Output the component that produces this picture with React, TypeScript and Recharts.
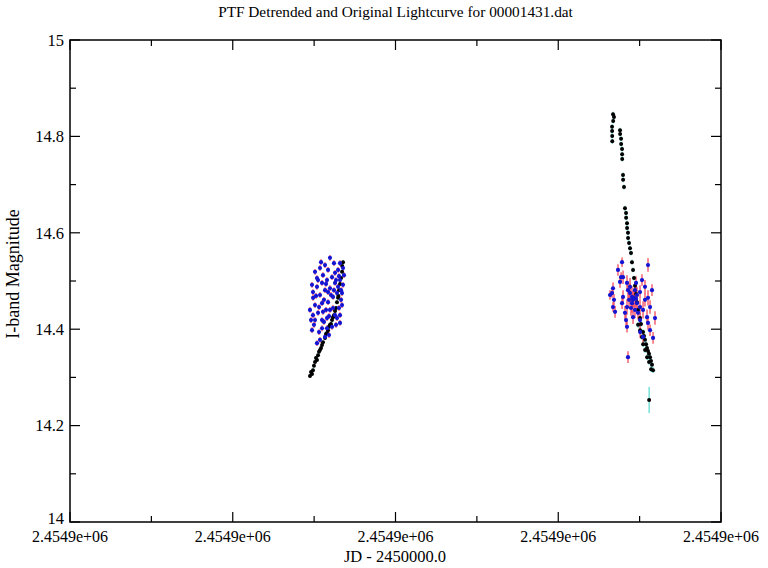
import { ScatterChart, Scatter, XAxis, YAxis, ErrorBar, ReferenceArea, Label } from 'recharts';

// Lightcurve of PTF source 00001431: black = original, blue = detrended.

const FONT = '"Liberation Serif", "Times New Roman", serif';

const X_MIN = 2454860;
const X_MAX = 2454940;
const X_TICKS = [2454860, 2454870, 2454880, 2454890, 2454900, 2454910, 2454920, 2454930, 2454940];
const X_MAJOR = [2454860, 2454880, 2454900, 2454920, 2454940];

const Y_TICKS = [14, 14.1, 14.2, 14.3, 14.4, 14.5, 14.6, 14.7, 14.8, 14.9, 15];
const Y_MAJOR = [14, 14.2, 14.4, 14.6, 14.8, 15];

const PLOT_W = 651;
const PLOT_H = 482;

// [JD, mag, err]
const origSeason1: number[][] = [
    [2454889.49, 14.303, 0.004], [2454889.62, 14.311, 0.004], [2454889.74, 14.307, 0.004],
    [2454889.86, 14.315, 0.004], [2454889.98, 14.324, 0.004], [2454890.11, 14.332, 0.004],
    [2454890.23, 14.340, 0.004], [2454890.35, 14.336, 0.004], [2454890.48, 14.346, 0.004],
    [2454890.60, 14.353, 0.004], [2454890.72, 14.357, 0.004], [2454890.85, 14.361, 0.004],
    [2454890.97, 14.367, 0.004], [2454891.09, 14.373, 0.004], [2454891.34, 14.382, 0.004],
    [2454891.46, 14.390, 0.004], [2454891.58, 14.392, 0.004], [2454891.71, 14.398, 0.004],
    [2454891.83, 14.405, 0.004], [2454891.95, 14.409, 0.004], [2454892.07, 14.411, 0.004],
    [2454892.20, 14.419, 0.004], [2454892.32, 14.425, 0.004], [2454892.44, 14.429, 0.004],
    [2454892.57, 14.438, 0.004], [2454892.69, 14.444, 0.004], [2454892.81, 14.456, 0.004],
    [2454892.94, 14.465, 0.004], [2454892.99, 14.469, 0.004], [2454893.06, 14.481, 0.004],
    [2454893.18, 14.494, 0.004], [2454893.31, 14.506, 0.004], [2454893.43, 14.519, 0.004],
    [2454893.45, 14.531, 0.004], [2454893.55, 14.539, 0.004],
];

const origSeason2: number[][] = [
    [2454926.73, 14.846, 0.005], [2454926.85, 14.840, 0.005], [2454926.75, 14.832, 0.005],
    [2454926.61, 14.820, 0.005], [2454926.62, 14.811, 0.005], [2454926.63, 14.801, 0.005],
    [2454926.64, 14.790, 0.005], [2454927.59, 14.813, 0.005], [2454927.60, 14.805, 0.005],
    [2454927.72, 14.795, 0.005], [2454927.73, 14.784, 0.005], [2454927.84, 14.774, 0.005],
    [2454927.85, 14.763, 0.005], [2454927.86, 14.753, 0.005], [2454927.96, 14.720, 0.005],
    [2454927.97, 14.710, 0.005], [2454928.08, 14.695, 0.005], [2454928.20, 14.651, 0.005],
    [2454928.33, 14.641, 0.005], [2454928.34, 14.631, 0.005], [2454928.45, 14.620, 0.005],
    [2454928.46, 14.610, 0.005], [2454928.57, 14.600, 0.005], [2454928.58, 14.589, 0.005],
    [2454928.70, 14.579, 0.005], [2454928.82, 14.568, 0.005], [2454928.94, 14.558, 0.005],
    [2454929.06, 14.539, 0.005], [2454929.19, 14.523, 0.005], [2454929.31, 14.506, 0.005],
    [2454929.43, 14.490, 0.005], [2454929.56, 14.473, 0.005], [2454929.68, 14.456, 0.005],
    [2454929.80, 14.440, 0.005], [2454930.05, 14.423, 0.005], [2454929.81, 14.409, 0.006],
    [2454930.17, 14.411, 0.006], [2454930.06, 14.398, 0.006], [2454930.42, 14.394, 0.006],
    [2454930.29, 14.384, 0.006], [2454930.54, 14.386, 0.006], [2454930.66, 14.378, 0.006],
    [2454930.43, 14.369, 0.006], [2454930.79, 14.369, 0.006], [2454930.91, 14.361, 0.006],
    [2454930.67, 14.357, 0.006], [2454931.03, 14.355, 0.006], [2454931.15, 14.349, 0.006],
    [2454930.92, 14.342, 0.006], [2454931.28, 14.342, 0.006], [2454931.40, 14.334, 0.006],
    [2454931.16, 14.332, 0.006], [2454931.52, 14.326, 0.006], [2454931.41, 14.317, 0.006],
    [2454931.65, 14.315, 0.006], [2454931.17, 14.253, 0.027],
];

const detSeason1: number[][] = [
    [2454891.95, 14.548, 0.006], [2454890.11, 14.519, 0.006], [2454890.72, 14.527, 0.006],
    [2454891.09, 14.512, 0.006], [2454891.58, 14.502, 0.006], [2454892.20, 14.508, 0.006],
    [2454892.57, 14.517, 0.006], [2454892.94, 14.523, 0.006], [2454893.18, 14.537, 0.006],
    [2454890.97, 14.496, 0.006], [2454890.35, 14.488, 0.006], [2454889.86, 14.477, 0.006],
    [2454889.87, 14.465, 0.006], [2454890.72, 14.471, 0.006], [2454891.34, 14.481, 0.006],
    [2454891.95, 14.485, 0.006], [2454892.57, 14.496, 0.006], [2454892.94, 14.488, 0.006],
    [2454890.11, 14.450, 0.006], [2454890.97, 14.454, 0.006], [2454891.71, 14.456, 0.006],
    [2454892.32, 14.467, 0.006], [2454892.81, 14.475, 0.006], [2454889.86, 14.429, 0.006],
    [2454890.48, 14.434, 0.006], [2454891.09, 14.436, 0.006], [2454891.95, 14.440, 0.006],
    [2454892.57, 14.429, 0.006], [2454890.11, 14.419, 0.006], [2454890.97, 14.419, 0.006],
    [2454891.58, 14.423, 0.006], [2454889.74, 14.398, 0.006], [2454890.97, 14.402, 0.006],
    [2454891.58, 14.402, 0.006], [2454892.20, 14.405, 0.006], [2454893.18, 14.413, 0.006],
    [2454893.18, 14.429, 0.006], [2454893.43, 14.450, 0.006], [2454893.43, 14.475, 0.006],
    [2454893.18, 14.502, 0.006], [2454890.72, 14.378, 0.006], [2454890.35, 14.371, 0.006],
    [2454891.34, 14.384, 0.006], [2454893.55, 14.527, 0.006], [2454893.31, 14.461, 0.006],
    [2454889.49, 14.440, 0.006], [2454890.48, 14.502, 0.006], [2454891.34, 14.533, 0.006],
    [2454892.69, 14.409, 0.006], [2454891.71, 14.477, 0.006], [2454893.55, 14.492, 0.006],
    [2454889.74, 14.492, 0.006], [2454890.23, 14.469, 0.006], [2454890.60, 14.446, 0.006],
    [2454891.21, 14.461, 0.006], [2454891.46, 14.440, 0.006], [2454891.83, 14.427, 0.006],
    [2454892.07, 14.471, 0.006], [2454892.44, 14.481, 0.006], [2454892.69, 14.502, 0.006],
    [2454893.06, 14.510, 0.006], [2454893.31, 14.481, 0.006], [2454893.67, 14.512, 0.006],
    [2454889.62, 14.419, 0.006], [2454889.98, 14.409, 0.006], [2454890.60, 14.394, 0.006],
    [2454891.21, 14.415, 0.006], [2454891.83, 14.388, 0.006], [2454892.32, 14.444, 0.006],
    [2454892.81, 14.423, 0.006], [2454893.06, 14.444, 0.006], [2454890.85, 14.539, 0.006],
    [2454891.71, 14.523, 0.006], [2454892.44, 14.537, 0.006], [2454890.35, 14.506, 0.006],
    [2454891.46, 14.494, 0.006],
];

const detSeason2: number[][] = [
    [2454927.84, 14.539, 0.010], [2454931.03, 14.533, 0.014], [2454927.72, 14.508, 0.010],
    [2454926.73, 14.485, 0.012], [2454926.61, 14.475, 0.010], [2454926.85, 14.461, 0.012],
    [2454926.73, 14.446, 0.010], [2454926.98, 14.436, 0.012], [2454927.59, 14.498, 0.012],
    [2454927.96, 14.508, 0.014], [2454928.45, 14.496, 0.016], [2454928.57, 14.481, 0.018],
    [2454928.82, 14.475, 0.020], [2454929.06, 14.467, 0.022], [2454929.19, 14.461, 0.018],
    [2454929.68, 14.471, 0.016], [2454930.05, 14.477, 0.014], [2454930.29, 14.502, 0.012],
    [2454930.66, 14.488, 0.014], [2454931.03, 14.465, 0.016], [2454931.28, 14.446, 0.014],
    [2454930.91, 14.425, 0.016], [2454931.03, 14.413, 0.014], [2454931.28, 14.398, 0.012],
    [2454930.42, 14.440, 0.018], [2454930.05, 14.446, 0.016], [2454929.80, 14.434, 0.014],
    [2454929.43, 14.440, 0.016], [2454929.06, 14.454, 0.020], [2454928.45, 14.446, 0.016],
    [2454928.20, 14.434, 0.014], [2454928.33, 14.419, 0.012], [2454928.45, 14.405, 0.012],
    [2454930.05, 14.419, 0.014], [2454930.06, 14.394, 0.012], [2454930.42, 14.384, 0.012],
    [2454928.57, 14.342, 0.012], [2454928.82, 14.488, 0.018], [2454929.43, 14.481, 0.016],
    [2454927.96, 14.467, 0.014], [2454927.84, 14.454, 0.012], [2454929.68, 14.454, 0.016],
    [2454929.19, 14.425, 0.014], [2454930.66, 14.461, 0.014], [2454926.36, 14.471, 0.010],
    [2454927.34, 14.523, 0.012], [2454931.52, 14.481, 0.012], [2454931.89, 14.423, 0.014],
    [2454931.65, 14.382, 0.012], [2454929.56, 14.496, 0.014], [2454928.94, 14.444, 0.016],
    [2454929.31, 14.465, 0.020], [2454928.70, 14.461, 0.018], [2454929.56, 14.463, 0.018],
];

const toPoints = (rows: number[][]) => rows.map(([jd, mag, err]) => ({ jd, mag, err }));

const original = toPoints([...origSeason1, ...origSeason2]);
const detrended = toPoints([...detSeason1, ...detSeason2]);

function fmtJd(v: number): string {
    return v.toExponential(4).replace(/e\+(\d)$/, 'e+0$1');
}

function XTick(props: any) {
    const { x, y, payload } = props;
    const major = X_MAJOR.includes(payload.value);
    const len = major ? 10 : 6;
    return (
        <g>
            <line x1={x} x2={x} y1={y} y2={y - len} stroke="#000" strokeWidth={1.2} />
            <line x1={x} x2={x} y1={y - PLOT_H} y2={y - PLOT_H + len} stroke="#000" strokeWidth={1.2} />
            {major && (
                <text x={x} y={y + 20} textAnchor="middle" fontSize={16} fontFamily={FONT} fill="#000">
                    {fmtJd(payload.value)}
                </text>
            )}
        </g>
    );
}

function YTick(props: any) {
    const { x, y, payload } = props;
    const major = Y_MAJOR.includes(payload.value);
    const len = major ? 10 : 6;
    // the bottom label sits a little higher, clear of the x labels
    const lift = payload.value === 14 ? -4 : 0;
    return (
        <g>
            <line x1={x} x2={x + len} y1={y} y2={y} stroke="#000" strokeWidth={1.2} />
            <line x1={x + PLOT_W} x2={x + PLOT_W - len} y1={y} y2={y} stroke="#000" strokeWidth={1.2} />
            {major && (
                <text x={x - 6} y={y + lift} dy="0.35em" textAnchor="end" fontSize={16.5} fontFamily={FONT} fill="#000">
                    {String(payload.value)}
                </text>
            )}
        </g>
    );
}

const blackDot = (p: any) => <circle cx={p.cx} cy={p.cy} r={2} fill="#000" />;
const blueDot = (p: any) => <circle cx={p.cx} cy={p.cy} r={2.1} fill="#1414d2" />;

export default function App() {
    return (
        <div style={{ position: 'absolute', left: 0, top: 0, width: 768, height: 568, background: '#fff' }}>
            <div style={{ position: 'absolute', left: 0, top: 3, width: 791, textAlign: 'center', fontFamily: FONT, fontSize: 15.3 }}>
                PTF Detrended and Original Lightcurve for 00001431.dat
            </div>
            <ScatterChart width={768} height={568} margin={{ top: 40, right: 47, bottom: 6, left: 0 }}>
                <XAxis
                    type="number"
                    dataKey="jd"
                    domain={[X_MIN, X_MAX]}
                    ticks={X_TICKS}
                    interval={0}
                    height={40}
                    axisLine={false}
                    tickLine={false}
                    tickSize={0}
                    tickMargin={0}
                    tick={XTick}
                >
                    <Label
                        content={() => (
                            <text x={395} y={562} textAnchor="middle" fontSize={16.5} fontFamily={FONT} fill="#000">
                                JD - 2450000.0
                            </text>
                        )}
                    />
                </XAxis>
                <YAxis
                    type="number"
                    dataKey="mag"
                    domain={[14, 15]}
                    ticks={Y_TICKS}
                    interval={0}
                    width={70}
                    axisLine={false}
                    tickLine={false}
                    tickSize={0}
                    tickMargin={0}
                    tick={YTick}
                >
                    <Label
                        content={() => (
                            <text x={19} y={274} transform="rotate(-90 19 274)" textAnchor="middle" fontSize={18} fontFamily={FONT} fill="#000">
                                I-band Magnitude
                            </text>
                        )}
                    />
                </YAxis>
                <ReferenceArea x1={X_MIN} x2={X_MAX} y1={14} y2={15} fill="none" stroke="#000" strokeWidth={1.5} />
                {/* original lightcurve, cyan errors */}
                <Scatter data={original} shape={blackDot} isAnimationActive={false}>
                    <ErrorBar dataKey="err" direction="y" width={0} stroke="#52d8cc" strokeWidth={1.2} />
                </Scatter>
                {/* detrended, red errors */}
                <Scatter data={detrended} shape={blueDot} isAnimationActive={false}>
                    <ErrorBar dataKey="err" direction="y" width={0} stroke="#f03a50" strokeWidth={1.2} />
                </Scatter>
            </ScatterChart>
        </div>
    );
}
